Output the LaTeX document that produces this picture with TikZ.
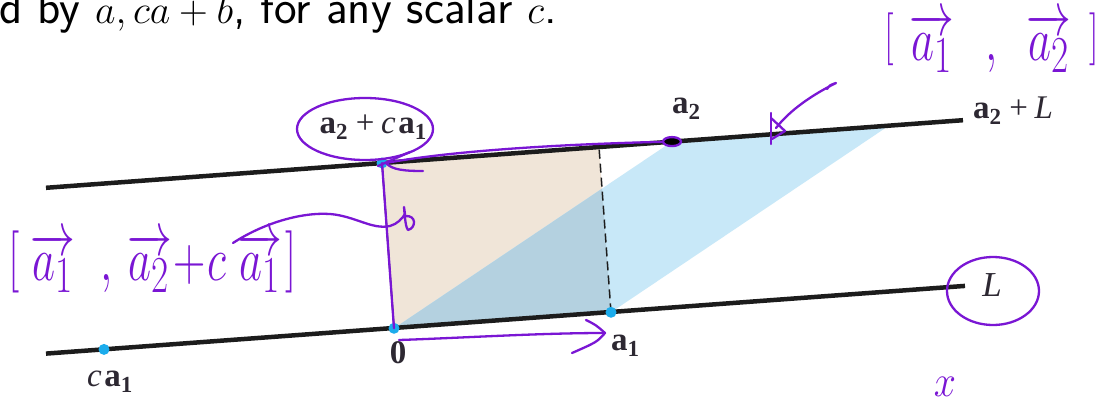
\documentclass[tikz,border=0pt]{standalone}
\usepackage{fontspec}
\usepackage{graphicx}
\usetikzlibrary{calc,intersections}
\newfontfamily\labfont{Liberation Serif}
\definecolor{hand}{RGB}{122,22,212}
\definecolor{dotblue}{RGB}{28,172,236}
\definecolor{beige}{RGB}{240,229,216}
\definecolor{skyblue}{RGB}{200,232,248}
\definecolor{overlap}{RGB}{180,209,224}
\definecolor{ink}{RGB}{28,28,28}
\definecolor{labink}{RGB}{45,40,50}
\newcommand{\ba}{\textbf{a}}
\newcommand{\lsub}[1]{\raisebox{-0.42ex}{\fontsize{23}{23}\selectfont\textbf{#1}}}
\newcommand{\hbr}[1]{\raisebox{1pt}{$#1$}}
\newcommand{\sbr}[1]{\raisebox{3pt}{\scalebox{0.85}{$#1$}}}
\begin{document}
\begin{tikzpicture}[x=1pt,y=-1pt,
  thickline/.style={line width=4.5pt, draw=ink},
  thinedge/.style={draw=ink, line width=1.5pt},
  dashedge/.style={draw=ink, line width=1.5pt, dash pattern=on 9pt off 5pt},
  dot/.style={circle, fill=dotblue, inner sep=0pt, minimum size=11pt},
  lab/.style={font=\labfont\fontsize{33}{33}\selectfont, text=labink, inner sep=0pt},
  hand/.style={draw=hand, line width=2.3pt, line cap=round, line join=round},
  handtext/.style={text=hand, inner sep=0pt, font=\fontsize{24.88}{30}\selectfont},
]
\useasboundingbox (0,0) rectangle (1112,399);
\fill[white] (0,0) rectangle (1112,399);

% key points
\coordinate (O) at (394,328.3);
\coordinate (A1) at (611,312.3);
\coordinate (Q) at (382,163);
\coordinate (A2) at (672,141.6);
\coordinate (P) at ($(A1)+(Q)-(O)$);
\coordinate (S) at ($(A2)+(A1)-(O)$);
\coordinate (cA1) at (104,349.4);
\coordinate (Lb1) at (46,353.6);
\coordinate (Lb2) at (965,285.9);
\coordinate (Lt1) at (46,187.8);
\coordinate (Lt2) at (963,120.2);
\coordinate (X) at (intersection of O--A2 and A1--P);

% parallelograms
\fill[beige] (O) -- (A1) -- (P) -- (Q) -- cycle;
\fill[skyblue] (O) -- (A1) -- (S) -- (A2) -- cycle;
\fill[overlap] (O) -- (A1) -- (X) -- cycle;

% lines
\draw[thickline] (Lb1) -- (Lb2);
\draw[thickline] (Lt1) -- (Lt2);
\draw[dashedge] (A1) -- (P);
\draw[thinedge] (O) -- (Q);

% dots
\node[dot] (dO) at (O) {};
\node[dot] (dA1) at (A1) {};
\node[dot] (dQ) at (Q) {};
\node[dot] (dA2) at (A2) {};
\node[dot] (dcA1) at (cA1) {};

% labels
\node[lab, anchor=base] (labQ) at (373,133) {\ba\lsub{2}\hspace{0.25em}+\hspace{0.2em}\textit{c}\hspace{0.08em}\ba\lsub{1}};
\node[lab, anchor=base] (labA2) at (686,113) {\ba\lsub{2}};
\node[lab, anchor=base west] (labA2L) at (973,118) {\ba\lsub{2}\hspace{0.25em}+\hspace{0.2em}\textit{L}};
\node[lab, anchor=base] (labL) at (992,296) {\fontsize{35}{35}\selectfont\textit{L}};
\node[lab, anchor=base] (lab0) at (398,363) {\textbf{0}};
\node[lab, anchor=base west] (labA1) at (611,350) {\ba\lsub{1}};
\node[lab, anchor=base west] (labcA1) at (87,386) {\textit{c}\hspace{0.08em}\ba\lsub{1}};

% top text
\node[anchor=base west, inner sep=0pt, font=\sffamily\fontsize{30}{30}\selectfont] (toptext) at (-1,23) {\scalebox{1.6}{d by $a, ca+b$, for any scalar $c$.}};

% handwritten text
\node[handtext, anchor=base west] (hTR) at (884,60) {\scalebox{1.8}[2.5]{$\sbr{[}\hspace{9pt}\overrightarrow{a_1}\hspace{17pt},\hspace{12pt}\overrightarrow{a_2}\hspace{10pt}\sbr{]}$}};
\node[handtext, anchor=base west] (hL) at (8,280) {\scalebox{1.8}[2.5]{$\hbr{[}\hspace{6pt}\overrightarrow{a_1}\hspace{14pt},\hspace{4pt}\overrightarrow{a_2}\hspace{1pt}{+}\hspace{1pt}c\hspace{6pt}\overrightarrow{a_1}\hspace{2pt}\hbr{]}$}};
\node[handtext, anchor=base] (hx) at (945,396) {\scalebox{1.6}[1.8]{$x$}};

% handwritten strokes
\draw[hand] (365,129) ellipse [x radius=68, y radius=31];
\draw[hand] (410,152) -- (378,166);
\draw[hand] (A2) .. controls (560,144) and (450,151) .. (386,163) .. controls (392,170) and (405,171) .. (423,171);
\fill[hand] (A2) ellipse [x radius=9, y radius=4.5];
\draw[hand] (Q) -- (O);
\draw[hand] (399,340) .. controls (460,338) and (540,333) .. (604,333);
\draw[hand] (586,320) .. controls (596,325) .. (605,333) .. controls (597,342) .. (572,353);
\draw[hand] (827,89) .. controls (830,85) .. (836,83) .. controls (812,95) and (790,110) .. (776,128);
\draw[hand] (771,113) -- (771,144);
\draw[hand] (771,118) -- (785,131) -- (772,139);
\draw[hand] (993,291) ellipse [x radius=46, y radius=34];
\draw[hand] (233,243) .. controls (262,224) and (300,212) .. (330,214) .. controls (355,216) and (372,230) .. (390,226) .. controls (397,224) and (402,219) .. (405,214) -- (404,207) .. controls (405,220) and (406,228) .. (408,230) .. controls (416,228) and (417,215) .. (405,216);
\end{tikzpicture}
\end{document}
